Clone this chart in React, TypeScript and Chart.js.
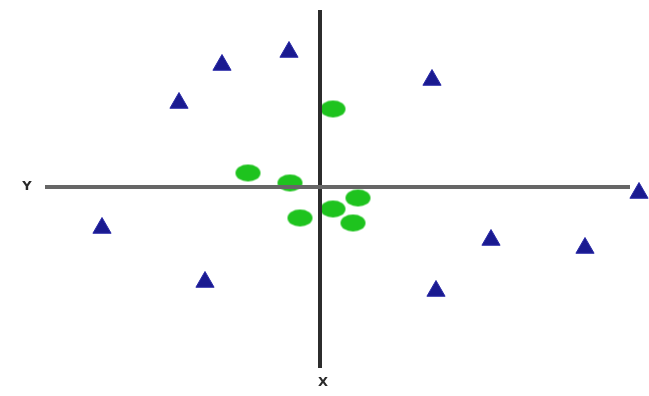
import React, { useEffect, useRef } from "react";
import { Chart, registerables } from "chart.js";

Chart.register(...registerables);

// Blue triangle class
const triX = [-9.8, -3.1, -14.1, 11.2, -21.8, -11.5, 17.1, 26.5, 11.6, 31.9];
const triY = [12.2, 13.5, 8.4, 10.7, -4.1, -9.5, -5.3, -6.1, -10.4, -0.6];

// Green ellipse class
const ellX = [1.3, -7.2, -3.0, 3.8, 1.3, -2.0, 3.3];
const ellY = [7.8, 1.4, 0.4, -1.1, -2.2, -3.1, -3.6];

// Axis extents
const hAxisX = [-27.5, 31];
const vAxisY = [17.7, -18.1];
const axisLabels = ["Y", "X"];

function makeEllipse(): HTMLCanvasElement {
  const c = document.createElement("canvas");
  c.width = 27;
  c.height = 19;
  const g = c.getContext("2d")!;
  g.fillStyle = "#1ec31e";
  g.beginPath();
  g.ellipse(13.5, 9.5, 12.5, 8.5, 0, 0, Math.PI * 2);
  g.fill();
  return c;
}

export default function App() {
  const ref = useRef<HTMLCanvasElement>(null);

  useEffect(() => {
    if (!ref.current) return;
    const labelPlugin = {
      id: "axisLetters",
      afterDatasetsDraw(chart: any) {
        const ctx = chart.ctx;
        const xs = chart.scales.x;
        const ys = chart.scales.y;
        ctx.save();
        ctx.fillStyle = "#2a2a2a";
        ctx.font = "bold 13px 'DejaVu Sans', sans-serif";
        ctx.textAlign = "center";
        ctx.textBaseline = "middle";
        ctx.fillText(axisLabels[0], xs.getPixelForValue(hAxisX[0]) - 18, ys.getPixelForValue(0));
        ctx.fillText(axisLabels[1], xs.getPixelForValue(0) + 3, ys.getPixelForValue(vAxisY[1]) + 15);
        ctx.restore();
      },
    };

    const chart = new Chart(ref.current, {
      type: "scatter",
      data: {
        datasets: [
          {
            data: [
              { x: hAxisX[0], y: 0 },
              { x: hAxisX[1], y: 0 },
            ],
            showLine: true,
            borderColor: "#666666",
            borderWidth: 4,
            pointRadius: 0,
            clip: false as any,
          },
          {
            data: [
              { x: 0, y: vAxisY[0] },
              { x: 0, y: vAxisY[1] },
            ],
            showLine: true,
            borderColor: "#2c2c2c",
            borderWidth: 4,
            pointRadius: 0,
            clip: false as any,
          },
          {
            data: ellX.map((x, i) => ({ x, y: ellY[i] })),
            pointStyle: makeEllipse() as any,
            pointRadius: 10,
            clip: false as any,
          },
          {
            data: triX.map((x, i) => ({ x, y: triY[i] })),
            pointStyle: "triangle",
            pointRadius: 10.5,
            backgroundColor: "#1a1a90",
            borderColor: "#2a2aa8",
            borderWidth: 1,
            clip: false as any,
          },
        ],
      },
      options: {
        animation: false,
        responsive: false,
        layout: { padding: 0, autoPadding: false },
        plugins: { legend: { display: false }, tooltip: { enabled: false } },
        scales: {
          x: { type: "linear", min: -32, max: 32.9, display: false },
          y: { type: "linear", min: -20.9, max: 18.7, display: false },
        },
      },
      plugins: [labelPlugin],
    });
    return () => chart.destroy();
  }, []);

  return (
    <div style={{ position: "absolute", left: 0, top: 0, width: 649, height: 396, background: "#fff" }}>
      <canvas ref={ref} width={649} height={396} style={{ display: "block" }} />
    </div>
  );
}
